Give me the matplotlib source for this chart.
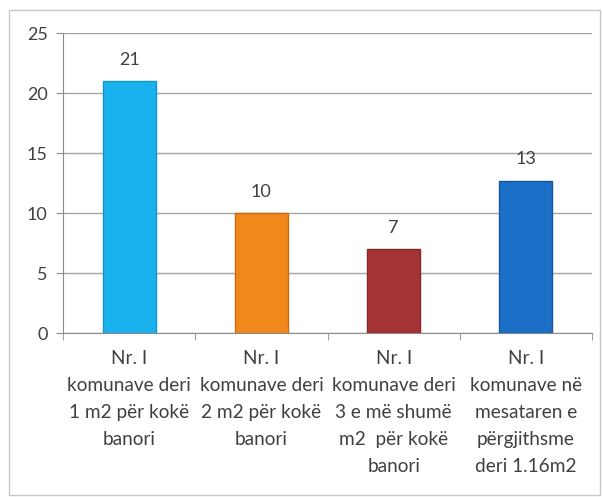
import matplotlib
matplotlib.use("Agg")
import matplotlib.pyplot as plt
import numpy as np

categories = [
    "Nr. I\nkomunave deri\n1 m2 për kokë\nbanori",
    "Nr. I\nkomunave deri\n2 m2 për kokë\nbanori",
    "Nr. I\nkomunave deri\n3 e më shumë\nm2  për kokë\nbanori",
    "Nr. I\nkomunave në\nmesataren e\npërgjithsme\nderi 1.16m2",
]
values = [21, 10, 7, 12.7]
value_labels = ["21", "10", "7", "13"]
colors = ["#1AB2EE", "#F0881C", "#A53436", "#1B6FC6"]
edge_colors = ["#1196CC", "#C96A10", "#842628", "#15579E"]
yticks = [0, 5, 10, 15, 20, 25]

plt.rcParams['font.family'] = ['Lato', 'DejaVu Sans']

fig = plt.figure(figsize=(6.02, 4.97), dpi=100)
ax = fig.add_axes([63/602, 1-333/497, (592-63)/602, 300/497])

# size the category font so "komunave deri" spans ~124 px, as in the reference
renderer = fig.canvas.get_renderer()
probe = fig.text(0, 0, "komunave deri", fontsize=14)
w = probe.get_window_extent(renderer).width
probe.remove()
cat_fs = 14 * 124 / w

x = np.arange(len(values))
ax.bar(x, values, width=0.4, color=colors, edgecolor=edge_colors, linewidth=1.0, zorder=3)
for xi, v, lab in zip(x, values, value_labels):
    ax.annotate(lab, (xi, v), xytext=(0, 9.5), textcoords="offset points",
                ha="center", va="bottom", fontsize=13, color="#404040")

ax.set_xlim(-0.5, len(values) - 0.5)
ax.set_ylim(0, 25)
ax.set_yticks(yticks)
ax.set_yticklabels([str(t) for t in yticks], fontsize=13, color="#404040")
ax.yaxis.grid(True, color="#A6A6A6", linewidth=1, zorder=0)
ax.set_axisbelow(True)

ax.set_xticks(x)
ax.set_xticklabels(categories, fontsize=cat_fs, color="#404040", linespacing=1.72)
ax.tick_params(axis="x", length=0, pad=12)
ax.set_xticks(np.arange(-0.5, len(values)), minor=True)
ax.tick_params(axis="x", which="minor", length=5, color="#8C8C8C", direction="out")
ax.tick_params(axis="y", length=5, color="#8C8C8C", pad=6)

for s in ["top", "right"]:
    ax.spines[s].set_visible(False)
ax.spines["left"].set_color("#8C8C8C")
ax.spines["bottom"].set_color("#8C8C8C")

border = plt.Rectangle((9/602, 2/497), 591/602, 485/497, transform=fig.transFigure,
                       fill=False, edgecolor="#C8C8C8", linewidth=1)
fig.patches.append(border)

fig.savefig("out.png", dpi=100)
